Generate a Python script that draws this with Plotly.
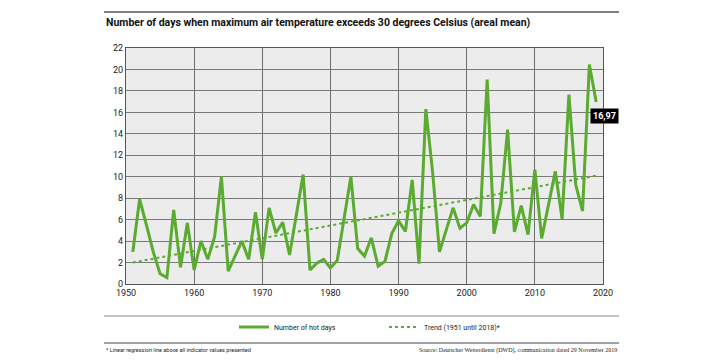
import plotly.graph_objects as go

years = list(range(1951, 2020))
hot_days = [3.0, 7.9, 5.5, 3.0, 0.95, 0.6, 6.9, 1.55, 5.7, 1.3,
            4.0, 2.3, 4.4, 10.0, 1.2, 2.6, 4.0, 2.3, 6.7, 2.3,
            7.1, 4.75, 5.75, 2.7, 6.5, 10.2, 1.3, 1.95, 2.3, 1.5,
            2.2, 6.0, 10.0, 3.3, 2.6, 4.3, 1.65, 2.1, 4.7, 5.9,
            4.9, 9.7, 1.9, 16.3, 10.4, 3.0, 5.0, 7.1, 5.2, 5.7,
            7.4, 6.3, 19.05, 4.7, 7.55, 14.4, 4.85, 7.3, 4.6, 10.65,
            4.25, 7.3, 10.5, 6.05, 17.65, 9.25, 6.8, 20.45, 16.97]
trend_years = [1951, 2019]
trend_vals = [2.0, 10.1]
last_label = "16,97"

green = "#5aab2f"
W, H = 720, 360
L, R, T, B = 126, 603, 48, 284

def px(x):
    return (x - L) / (R - L)

def py(y):
    return (B - y) / (B - T)

fig = go.Figure()
fig.add_trace(go.Scatter(x=years, y=hot_days, mode="lines", name="Number of hot days",
                         line=dict(color=green, width=3)))
fig.add_trace(go.Scatter(x=trend_years, y=trend_vals, mode="lines", name="Trend (1951 until 2018)*",
                         line=dict(color=green, width=2, dash="dot")))

fig.add_annotation(x=years[-1], y=hot_days[-1], text="<b>" + last_label + "</b>", showarrow=False,
                   xanchor="left", yanchor="top", xshift=-6, yshift=-6,
                   bgcolor="black", font=dict(color="white", size=9, family="Roboto"),
                   borderpad=2)

shapes = [
    dict(type="line", xref="paper", yref="paper", x0=px(104), x1=px(619), y0=py(12), y1=py(12),
         line=dict(color="#555555", width=1.5)),
    dict(type="line", xref="paper", yref="paper", x0=px(104), x1=px(619), y0=py(316), y1=py(316),
         line=dict(color="#888888", width=1.2)),
    dict(type="line", xref="paper", yref="paper", x0=px(104), x1=px(619), y0=py(343), y1=py(343),
         line=dict(color="#444444", width=1.2)),
]

annots = [
    dict(x=px(104), y=py(22), xref="paper", yref="paper", xanchor="left", yanchor="middle",
         text="<b>Number of days when maximum air temperature exceeds 30 degrees Celsius (areal mean)</b>",
         showarrow=False, font=dict(size=10.5, color="#111111", family="Roboto")),
    dict(x=px(104), y=py(350), xref="paper", yref="paper", xanchor="left", yanchor="middle",
         text="* Linear regression line above all indicator values presented",
         showarrow=False, font=dict(size=5.5, color="#222222", family="Roboto")),
    dict(x=px(619), y=py(350), xref="paper", yref="paper", xanchor="right", yanchor="middle",
         text="Source: Deutscher Wetterdienst (DWD), communication dated 29 November 2019",
         showarrow=False, font=dict(size=6, color="#222222", family="Liberation Serif, serif")),
]
for a in annots:
    fig.add_annotation(**a)

fig.update_layout(
    width=W, height=H,
    margin=dict(l=L, r=W - R, t=T, b=H - B, autoexpand=False),
    paper_bgcolor="white", plot_bgcolor="#ececec",
    font=dict(family="Roboto", size=9, color="#222222"),
    shapes=shapes,
    showlegend=True,
    legend=dict(orientation="h", x=px(234), y=py(327), xanchor="left", yanchor="middle",
                font=dict(size=7, color="#222222", family="Roboto"), entrywidth=105,
                entrywidthmode="pixels", itemwidth=30, bgcolor="rgba(0,0,0,0)"),
    xaxis=dict(range=[1950, 2020], tickvals=list(range(1950, 2021, 10)), showgrid=True,
               gridcolor="#6e6e6e", gridwidth=1.2, zeroline=False, showline=True,
               linecolor="#555555", linewidth=1.2, mirror=True, ticks="", tickfont=dict(size=9)),
    yaxis=dict(range=[0, 22], tickvals=list(range(0, 23, 2)), showgrid=True,
               gridcolor="#7a7a7a", gridwidth=1.2, zeroline=False, showline=True,
               linecolor="#555555", linewidth=1.2, mirror=True, ticks="", tickfont=dict(size=9)),
)

fig.write_html("out.html", config={"displayModeBar": False},
               post_script="document.body.style.margin='0';")
